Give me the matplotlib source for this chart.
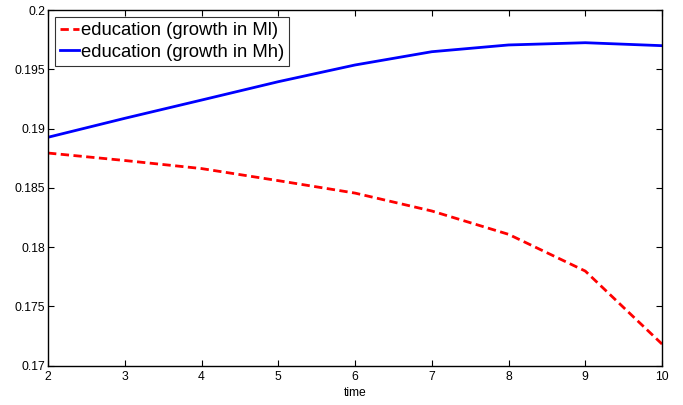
import matplotlib
matplotlib.use("Agg")
import matplotlib.pyplot as plt

plt.rcParams['font.family'] = ['Liberation Sans', 'DejaVu Sans']

time = [2, 3, 4, 5, 6, 7, 8, 9, 10]
edu_ml = [0.18793, 0.18730, 0.18662, 0.18560, 0.18455, 0.18304, 0.18107, 0.17797, 0.17181]
edu_mh = [0.18926, 0.19086, 0.19240, 0.19395, 0.19536, 0.19648, 0.19705, 0.19724, 0.19699]

fig = plt.figure(figsize=(6.83, 4.05), dpi=100)
ax = fig.add_axes([0.0703, 0.0975, 0.8990, 0.8778])

ax.plot(time, edu_ml, color='#ff0000', linestyle=(0, (3, 1.6)), linewidth=2.0,
        label='education (growth in Ml)')
ax.plot(time, edu_mh, color='#0000ff', linewidth=2.0,
        label='education (growth in Mh)')

ax.set_xlim(2, 10)
ax.set_ylim(0.17, 0.2)
ax.set_xticks(time)
ax.set_yticks([0.17, 0.175, 0.18, 0.185, 0.19, 0.195, 0.2])
ax.set_yticklabels(['0.17', '0.175', '0.18', '0.185', '0.19', '0.195', '0.2'])
ax.tick_params(axis='y', direction='in', length=4, width=0.8, labelsize=8.7,
               right=True, pad=2)
ax.tick_params(axis='x', direction='in', length=4, width=0.8, labelsize=8.7,
               top=True, pad=4)
for s in ax.spines.values():
    s.set_linewidth(1.0)
ax.set_xlabel('time', fontsize=8.7, labelpad=3)

leg = ax.legend(loc='upper left', fontsize=13.3, frameon=True, fancybox=False,
                edgecolor='black', handlelength=1.0, handletextpad=0.1,
                borderpad=0.28, labelspacing=0.25, borderaxespad=0.38)
leg.get_frame().set_linewidth(0.8)

fig.savefig('out.png', dpi=100)
